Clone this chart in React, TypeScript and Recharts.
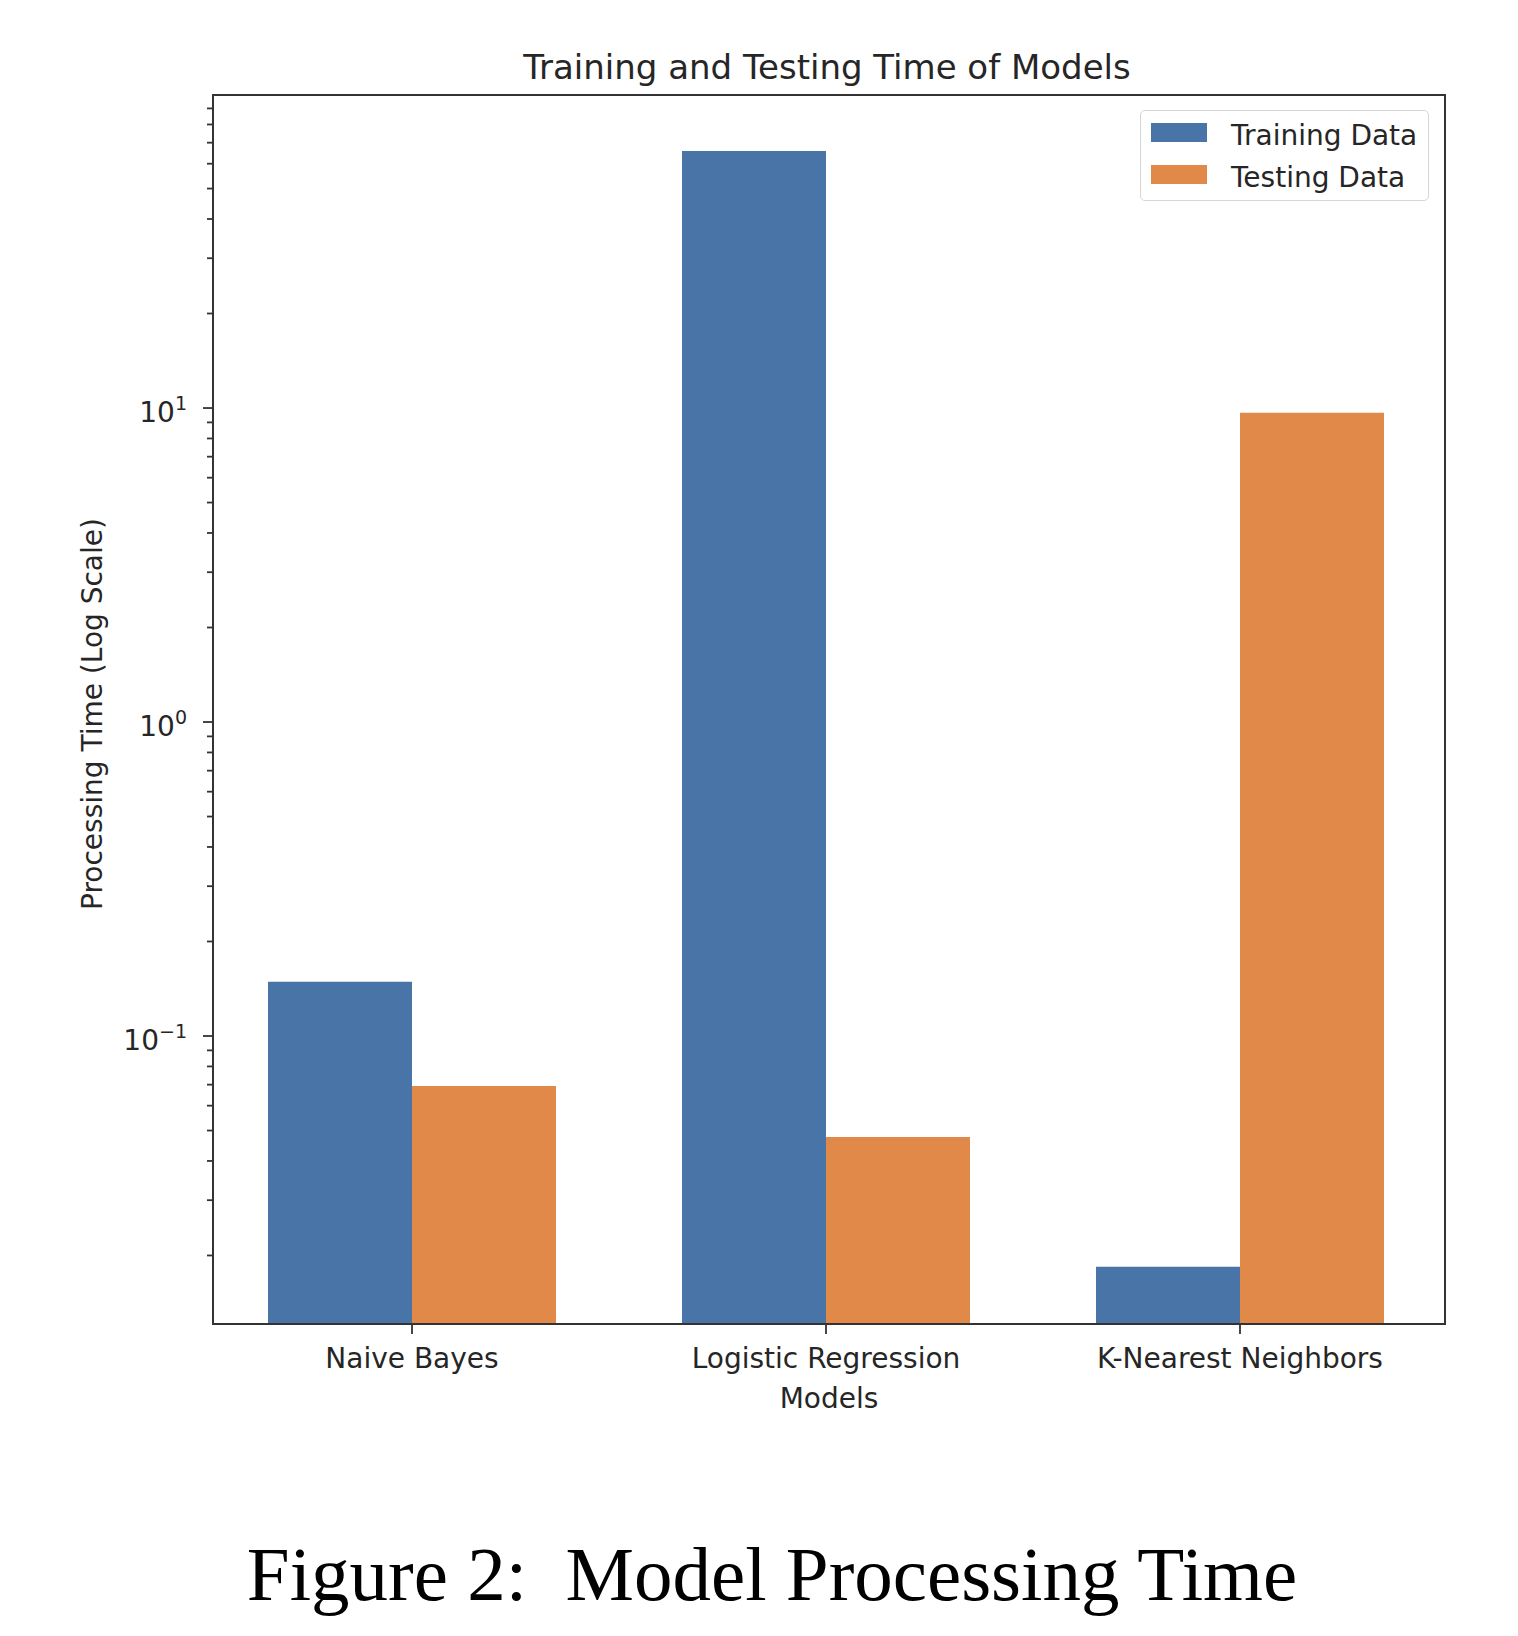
import React from 'react';
import { BarChart, Bar, XAxis, YAxis, Legend, Customized } from 'recharts';

const categories = ['Naive Bayes', 'Logistic Regression', 'K-Nearest Neighbors'];
const trainingTimes = [0.149, 65.9, 0.0184];
const testingTimes = [0.0693, 0.0477, 9.66];
const seriesNames = ['Training Data', 'Testing Data'];
const seriesColors = ['#4874A8', '#E08948'];
const majorTicks = [0.1, 1, 10];
const majorTickExponents = ['\u22121', '0', '1'];
const minorTicks = [
  0.02, 0.03, 0.04, 0.05, 0.06, 0.07, 0.08, 0.09,
  0.2, 0.3, 0.4, 0.5, 0.6, 0.7, 0.8, 0.9,
  2, 3, 4, 5, 6, 7, 8, 9,
  20, 30, 40, 50, 60, 70, 80, 90,
];
const yDomain = [0.0121, 99.3];
const titleText = 'Training and Testing Time of Models';
const yLabelText = 'Processing Time (Log Scale)';
const xLabelText = 'Models';
const captionText = 'Figure 2:\u00a0 Model Processing Time';

const data = categories.map((name, i) => ({
  name,
  training: trainingTimes[i],
  testing: testingTimes[i],
}));
const allTicks = [...majorTicks, ...minorTicks].sort((a, b) => a - b);

const FONT = 'DejaVu Sans';
const TEXT = '#262626';
const SPINE = '#333333';

const CHART_W = 1502;
const CHART_H = 1615;
const MARGIN = { top: 87, right: 65, bottom: 239, left: 85 };
const Y_AXIS_W = 120;
const X_AXIS_H = 60;
const PLOT_LEFT = MARGIN.left + Y_AXIS_W;
const PLOT_TOP = MARGIN.top;
const PLOT_W = CHART_W - PLOT_LEFT - MARGIN.right;
const PLOT_H = CHART_H - MARGIN.top - MARGIN.bottom - X_AXIS_H;

const YTick = (props: any) => {
  const { x, y, payload } = props;
  const v = payload.value;
  const idx = majorTicks.findIndex((m) => Math.abs(m - v) / m < 1e-6);
  const isMajor = idx >= 0;
  const len = isMajor ? 10 : 6;
  return (
    <g>
      <line x1={x - len} x2={x} y1={y} y2={y} stroke={SPINE} strokeWidth={1.8} />
      {isMajor && (
        <text x={x - 26} y={y + 14} textAnchor="end" fontFamily={FONT} fontSize={28} fill={TEXT}>
          10
          <tspan dy={-12} fontSize={19}>{majorTickExponents[idx]}</tspan>
        </text>
      )}
    </g>
  );
};

const XTick = (props: any) => {
  const { x, y, payload } = props;
  return (
    <g>
      <line x1={x} x2={x} y1={y} y2={y + 10} stroke={SPINE} strokeWidth={1.8} />
      <text x={x} y={y + 44} textAnchor="middle" fontFamily={FONT} fontSize={28} fill={TEXT}>
        {payload.value}
      </text>
    </g>
  );
};

const LegendBox = () => (
  <div
    style={{
      position: 'relative',
      width: 289,
      height: 91,
      boxSizing: 'border-box',
      border: '1.5px solid #d6d6d6',
      borderRadius: 5,
      background: 'rgba(255,255,255,0.8)',
      fontFamily: FONT,
      fontSize: 28,
      color: TEXT,
    }}
  >
    {seriesNames.map((n, i) => (
      <React.Fragment key={n}>
        <div
          style={{
            position: 'absolute',
            left: 10,
            top: 12 + i * 42,
            width: 56,
            height: 19,
            background: seriesColors[i],
          }}
        />
        <div
          style={{
            position: 'absolute',
            left: 90,
            top: 8 + i * 42,
            lineHeight: 'normal',
            whiteSpace: 'nowrap',
          }}
        >
          {n}
        </div>
      </React.Fragment>
    ))}
  </div>
);

const Overlay = () => (
  <g>
    <rect
      x={PLOT_LEFT}
      y={PLOT_TOP}
      width={PLOT_W}
      height={PLOT_H}
      fill="none"
      stroke={SPINE}
      strokeWidth={2}
    />
    <text x={819} y={71} textAnchor="middle" fontFamily={FONT} fontSize={34} fill={TEXT}>
      {titleText}
    </text>
    <text
      x={0}
      y={0}
      transform="translate(94, 706) rotate(-90)"
      textAnchor="middle"
      fontFamily={FONT}
      fontSize={28}
      fill={TEXT}
    >
      {yLabelText}
    </text>
    <text x={821} y={1400} textAnchor="middle" fontFamily={FONT} fontSize={28} fill={TEXT}>
      {xLabelText}
    </text>
    <text x={764} y={1592} textAnchor="middle" fontFamily="Liberation Serif" fontSize={77} fill="#000">
      {captionText}
    </text>
  </g>
);

export default function App() {
  return (
    <BarChart
      width={CHART_W}
      height={CHART_H}
      data={data}
      margin={MARGIN}
      barGap={0}
    >
      <XAxis
        dataKey="name"
        tick={<XTick />}
        tickLine={false}
        tickSize={0}
        tickMargin={0}
        height={X_AXIS_H}
        padding={{ left: -8, right: -2 }}
        axisLine={{ stroke: SPINE, strokeWidth: 2 }}
        interval={0}
      />
      <YAxis
        scale="log"
        type="number"
        domain={yDomain}
        allowDataOverflow
        ticks={allTicks}
        interval={0}
        tick={<YTick />}
        tickLine={false}
        tickSize={0}
        tickMargin={0}
        width={Y_AXIS_W}
        axisLine={{ stroke: SPINE, strokeWidth: 2 }}
      />
      <Bar dataKey="training" name={seriesNames[0]} fill={seriesColors[0]} barSize={144} isAnimationActive={false} />
      <Bar dataKey="testing" name={seriesNames[1]} fill={seriesColors[1]} barSize={144} isAnimationActive={false} />
      <Legend
        layout="vertical"
        align="center"
        verticalAlign="middle"
        wrapperStyle={{ top: 102, left: 1132, width: 289, height: 91 }}
        content={() => <LegendBox />}
      />
      <Customized component={Overlay} />
    </BarChart>
  );
}
